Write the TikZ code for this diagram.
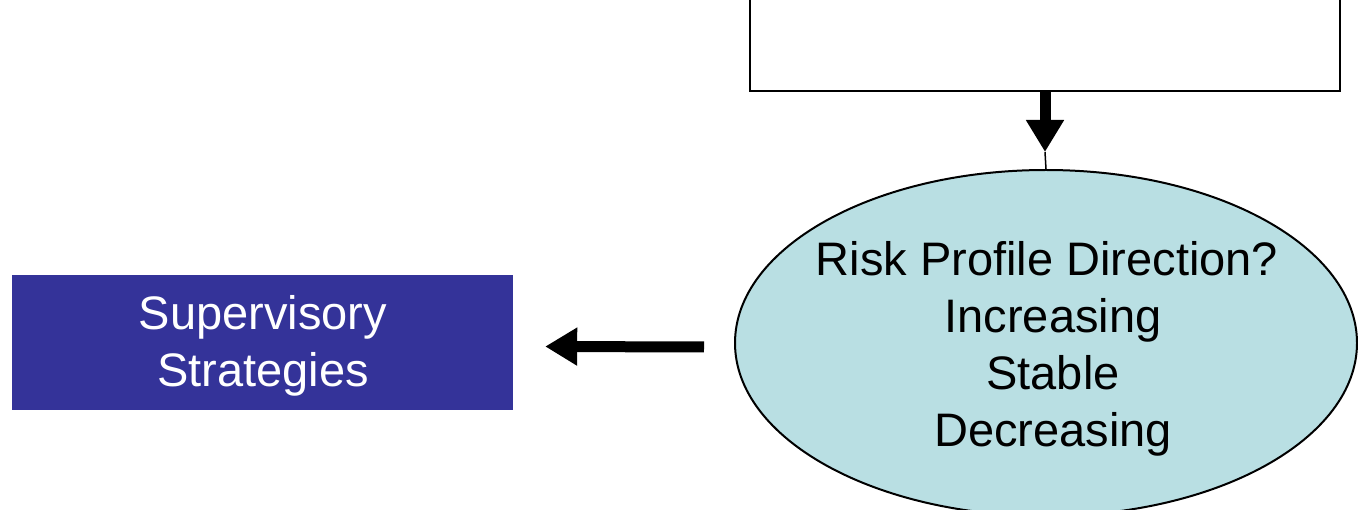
\documentclass[tikz,border=0pt]{standalone}
\usepackage{fontspec}
\setmainfont{Liberation Sans}
\usetikzlibrary{shapes.geometric,arrows.meta}
\definecolor{stratblue}{RGB}{52,51,153}
\definecolor{ellfill}{RGB}{185,223,227}
\begin{document}
\begin{tikzpicture}[x=1pt,y=-1pt,
  bigtext/.style={font=\fontsize{47}{57}\selectfont, align=center},
  fatarrow/.style={line width=11pt, -{Triangle[width=36pt,length=32pt]}},
  outline/.style={draw, line width=2pt}]
\useasboundingbox (0,0) rectangle (1358,510);
\clip (0,0) rectangle (1358,510);
% source box, its top runs off the page
\node[outline, minimum width=590pt, minimum height=140pt, anchor=south, inner sep=0] (src) at (1045,92) {};
% decision ellipse
\node[ellipse, outline, fill=ellfill, minimum width=622pt, minimum height=346pt, inner sep=0] (dir) at (1046,343) {};
\node[bigtext] (dirtext) at (1047,349) {Risk Profile Direction?\\\hspace*{12pt}Increasing\\\hspace*{12pt}Stable\\\hspace*{12pt}Decreasing};
% strategies box
\node[fill=stratblue, text=white, bigtext, minimum width=501pt, minimum height=135pt] (strat) at (262.5,342.5) {};
\node[text=white, bigtext] (strattext) at (263,346) {Supervisory\\Strategies};
% connectors
\coordinate (tip) at ([yshift=-60pt]src.south);
\draw[fatarrow] (src.south) -- (tip);
\draw[line width=1.5pt] (tip) -- (dir.north);
\draw[fatarrow] ([shift={(-30pt,-4pt)}]dir.west) -- ([shift={(32pt,-4pt)}]strat.east);
\end{tikzpicture}
\end{document}
